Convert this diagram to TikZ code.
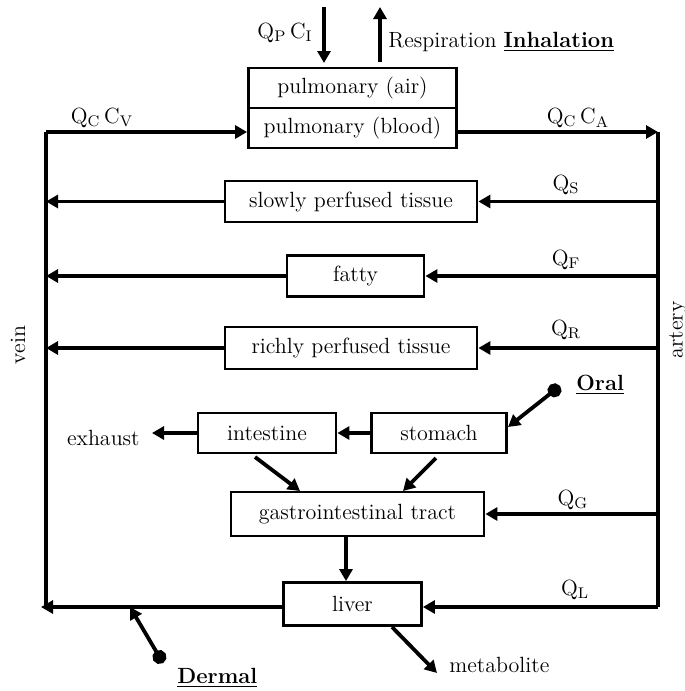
\documentclass[tikz,border=0pt]{standalone}
\usetikzlibrary{arrows.meta}
\begin{document}
\begin{tikzpicture}[x=0.5pt,y=-0.5pt,
  font=\fontsize{11}{13}\selectfont,
  box/.style={draw,line width=1.4pt,inner sep=0pt,minimum height=20.5pt},
  flow/.style={line width=1.9pt,-{Triangle[length=6pt,width=6.5pt]}},
  wire/.style={line width=1.9pt},
  dotstart/.style={line width=1.9pt,{Circle[length=7pt]}-{Triangle[length=6pt,width=6.5pt]}},
  lbl/.style={inner sep=0pt}]
\useasboundingbox (0,0) rectangle (685,691);
% corners
\coordinate (vt) at (46,132);
\coordinate (vb) at (46,607);
\coordinate (at) at (658,132);
\coordinate (ab) at (658,607);
% pulmonary
\node[box,minimum width=104pt,minimum height=20pt] (air) at (352.5,88) {pulmonary (air)};
\node[box,minimum width=104pt,minimum height=20pt] (blood) at (352.5,128) {pulmonary (blood)};
\coordinate (inTop) at (324,7);
\coordinate (inBot) at (324,63);
\coordinate (outBot) at (380,62);
\coordinate (outTop) at (380,7);
\draw[flow] (inTop) -- (inBot);
\draw[flow] (outBot) -- (outTop);
\node[lbl] (qpci) at (285,33) {Q\textsubscript{P}\,C\textsubscript{I}};
\node[lbl,anchor=west] (resp) at (388,42) {Respiration \underline{\textbf{Inhalation}}};
% tissues
\node[box,minimum width=126pt] (slow) at (351,201.5) {slowly perfused tissue};
\node[box,minimum width=68.5pt] (fat) at (355.5,276) {fatty};
\node[box,minimum width=126pt,minimum height=21pt] (rich) at (351,348) {richly perfused tissue};
\node[box,minimum width=67.5pt,minimum height=20pt] (stom) at (439,433) {stomach};
\node[box,minimum width=69pt,minimum height=20pt] (intes) at (267,433) {intestine};
\node[box,minimum width=126.5pt,minimum height=22pt] (gi) at (357.5,514) {gastrointestinal tract};
\node[box,minimum width=69pt,minimum height=21.5pt] (liver) at (352.5,604) {liver};
% main loop
\draw[wire,line join=miter] (vb) -- (vt);
\draw[flow] (vt) -- (blood.west |- vt);
\draw[flow] (blood.east |- at) -- (at);
\draw[wire] (at) -- (ab);
\node[lbl] (qccv) at (102,118) {Q\textsubscript{C}\,C\textsubscript{V}};
\node[lbl] (qcca) at (578,118) {Q\textsubscript{C}\,C\textsubscript{A}};
% branches
\foreach \n/\q/\y in {slow/S/185,fat/F/260,rich/R/330}{
  \draw[flow] (\n.east -| at) -- (\n.east);
  \draw[flow] (\n.west) -- (\n.west -| vt);
  \node[lbl] at (566,\y) {Q\textsubscript{\q}};
}
\draw[flow] (gi.east -| at) -- (gi.east);
\node[lbl] (qg) at (573,500) {Q\textsubscript{G}};
\draw[flow] (ab) -- (liver.east |- ab);
\coordinate (vend) at (41,607);
\draw[flow] (liver.west |- ab) -- (vend);
\node[lbl] (ql) at (575,590) {Q\textsubscript{L}};
% GI tract
\draw[flow] (stom.west) -- (intes.east);
\coordinate (exh) at (152,433);
\draw[flow] (intes.west) -- (exh);
\node[lbl,anchor=east] (exhaust) at (140,438) {exhaust};
\coordinate (i1) at (255,457);
\coordinate (i2) at (300,491);
\draw[flow] (i1) -- (i2);
\coordinate (s1) at (436,458);
\coordinate (s2) at (403,491);
\draw[flow] (s1) -- (s2);
\draw[flow] (gi.south -| 346,0) -- (liver.north -| 346,0);
% oral
\coordinate (oraldot) at (560,386);
\coordinate (oraltip) at (508,427);
\draw[dotstart] (oraldot) -- (oraltip);
\node[lbl,anchor=west] (oral) at (576,385) {\underline{\textbf{Oral}}};
% dermal
\coordinate (dermdot) at (163,663);
\coordinate (dermtip) at (130,607);
\draw[dotstart] (dermdot) -- (dermtip);
\node[lbl,anchor=west] (dermal) at (177,678) {\underline{\textbf{Dermal}}};
% metabolite
\coordinate (m1) at (392,627);
\coordinate (m2) at (437,673);
\draw[flow] (m1) -- (m2);
\node[lbl,anchor=west] (metab) at (449,665) {metabolite};
% vein/artery labels
\node[lbl,rotate=90] (vein) at (18,345) {vein};
\node[lbl,rotate=90] (artery) at (678,330) {artery};
\end{tikzpicture}
\end{document}
